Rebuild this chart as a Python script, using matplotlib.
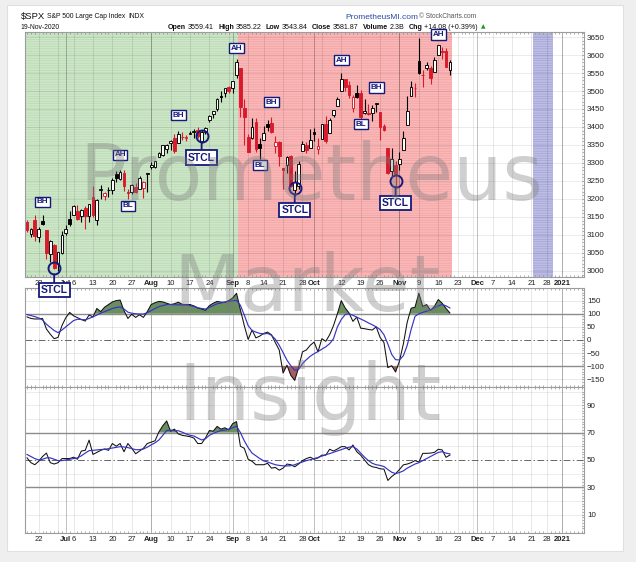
import numpy as np
import pandas as pd
import matplotlib
matplotlib.use("Agg")
import matplotlib.pyplot as plt
from matplotlib.patches import Rectangle

W, H, DPI = 636, 562, 100

# ------------------------------------------------------------------ data
first_day = "2020-06-17"
last_axis_day = "2021-01-15"
holidays = ["2020-07-03", "2020-09-07", "2020-11-26", "2020-12-25", "2021-01-01"]
prev_close = 3124.74
volume_text = "2.3B"

opens = [3136.13, 3101.64, 3140.29, 3094.42, 3138.70, 3114.40, 3046.60, 3073.20, 3018.59, 3050.20,
         3105.92, 3143.64, 3155.29, 3166.44, 3153.07, 3176.17, 3152.47, 3205.08, 3141.11, 3225.98, 3208.36,
         3224.21, 3224.29, 3268.52, 3254.86, 3271.64, 3218.58, 3219.84, 3234.27, 3227.22, 3231.76, 3270.45,
         3288.26, 3289.92, 3317.37, 3323.17, 3340.05, 3356.04, 3370.34, 3355.46, 3372.95, 3368.66, 3380.86,
         3387.04, 3392.51, 3360.48, 3386.01, 3418.09, 3435.95, 3449.97, 3485.14, 3494.69, 3509.73,
         3507.44, 3543.76, 3564.74, 3453.60, 3371.88, 3369.82, 3412.56, 3352.70, 3363.56, 3407.73, 3411.23,
         3346.86, 3357.38, 3285.57, 3295.75, 3320.11, 3226.14, 3236.66, 3333.90, 3350.92, 3341.21,
         3385.87, 3338.94, 3367.27, 3408.74, 3384.56, 3434.28, 3459.67, 3500.02, 3534.01, 3515.47, 3453.72,
         3493.50, 3493.66, 3439.38, 3439.91, 3438.50, 3464.90, 3441.42, 3403.15, 3342.48, 3277.17, 3293.59,
         3296.20, 3336.25, 3406.46, 3485.74, 3508.34, 3583.04, 3543.26, 3563.22, 3562.67, 3552.57, 3600.16,
         3610.31, 3612.09, 3559.41]
highs = [3141.16, 3120.00, 3155.53, 3120.92, 3154.90, 3115.01, 3086.25, 3073.73, 3053.89, 3111.51,
         3128.44, 3165.81, 3182.59, 3184.15, 3171.80, 3179.78, 3186.82, 3235.32, 3200.95, 3238.28, 3220.39,
         3233.52, 3258.61, 3277.29, 3279.32, 3279.99, 3227.26, 3241.43, 3243.72, 3264.74, 3250.92, 3272.17,
         3302.73, 3306.84, 3330.77, 3351.03, 3352.54, 3363.29, 3381.01, 3387.89, 3387.24, 3378.51, 3387.59,
         3395.06, 3399.54, 3390.80, 3399.96, 3432.09, 3444.21, 3481.07, 3501.38, 3509.23, 3514.77,
         3528.03, 3588.11, 3564.85, 3479.15, 3379.97, 3424.77, 3425.55, 3368.95, 3402.93, 3419.48, 3428.92,
         3375.17, 3362.27, 3285.57, 3320.31, 3323.35, 3278.70, 3306.88, 3360.74, 3357.92, 3393.56,
         3397.18, 3369.10, 3409.57, 3431.56, 3426.26, 3447.28, 3482.34, 3549.85, 3534.01, 3527.94, 3489.08,
         3515.76, 3502.42, 3476.93, 3464.86, 3460.53, 3466.46, 3441.42, 3409.51, 3342.48, 3341.05, 3304.93,
         3330.14, 3389.49, 3486.25, 3529.05, 3521.58, 3645.99, 3557.22, 3581.16, 3569.02, 3593.66, 3628.51,
         3623.11, 3619.09, 3585.22]
lows = [3108.03, 3093.51, 3083.11, 3079.39, 3127.12, 3032.13, 3024.01, 3004.63, 2999.74, 3047.83,
        3101.17, 3124.52, 3155.29, 3142.93, 3136.53, 3115.70, 3136.22, 3149.43, 3127.66, 3200.76, 3198.59,
        3205.65, 3215.16, 3247.77, 3253.10, 3222.66, 3200.05, 3214.25, 3216.17, 3227.22, 3204.13, 3220.26,
        3284.53, 3286.37, 3317.37, 3318.14, 3328.72, 3335.44, 3326.44, 3355.46, 3363.35, 3361.64, 3379.22,
        3370.15, 3369.66, 3354.69, 3379.31, 3413.13, 3425.84, 3444.15, 3468.35, 3484.32, 3493.25,
        3494.60, 3535.23, 3427.41, 3349.63, 3329.27, 3366.84, 3329.25, 3310.47, 3363.56, 3389.25, 3384.45,
        3328.82, 3292.40, 3229.10, 3270.95, 3232.57, 3209.45, 3228.44, 3332.91, 3327.54, 3340.47,
        3361.39, 3323.69, 3367.27, 3354.54, 3384.56, 3428.15, 3458.07, 3499.61, 3500.86, 3480.55, 3440.89,
        3480.45, 3419.93, 3435.65, 3433.06, 3415.34, 3440.45, 3364.86, 3388.71, 3268.89, 3259.82, 3233.94,
        3279.74, 3336.25, 3405.17, 3485.74, 3484.34, 3547.48, 3511.91, 3557.00, 3518.58, 3552.57, 3600.16,
        3588.68, 3567.33, 3543.84]
closes = [3113.49, 3115.34, 3097.74, 3117.86, 3131.29, 3050.33, 3083.76, 3009.05, 3053.24, 3100.29,
          3115.86, 3130.01, 3179.72, 3145.32, 3169.94, 3152.05, 3185.04, 3155.22, 3197.52, 3226.56, 3215.57,
          3224.73, 3251.84, 3257.30, 3276.02, 3235.66, 3215.63, 3239.41, 3218.44, 3258.44, 3246.22, 3271.12,
          3294.61, 3306.51, 3327.77, 3349.16, 3351.28, 3360.47, 3333.69, 3380.35, 3373.43, 3372.85, 3381.99,
          3389.78, 3374.85, 3385.51, 3397.16, 3431.28, 3443.62, 3478.73, 3484.55, 3508.01, 3500.31,
          3526.65, 3580.84, 3455.06, 3426.96, 3331.84, 3398.96, 3339.19, 3340.97, 3383.54, 3401.20, 3385.49,
          3357.01, 3319.47, 3281.06, 3315.57, 3236.92, 3246.59, 3298.46, 3351.60, 3335.47, 3363.00,
          3380.80, 3348.42, 3408.60, 3360.97, 3419.44, 3446.83, 3477.14, 3534.22, 3511.93, 3488.67, 3483.34,
          3483.81, 3426.92, 3443.12, 3435.56, 3453.49, 3465.39, 3400.97, 3390.68, 3271.03, 3310.11, 3269.96,
          3310.24, 3369.16, 3443.44, 3510.45, 3509.44, 3550.50, 3545.53, 3572.66, 3537.01, 3585.15, 3626.91,
          3609.53, 3567.79, 3581.87]

cci = [88, 82, 80, 80, 82, 42, 22, 5, 10, 55,
       85, 105, 92, 85, 78, 72, 95, 88, 120, 108,
       125, 135, 145, 150, 152, 112, 82, 98, 86, 96,
       86, 108, 135, 142, 147, 145, 140, 135, 138, 144,
       136, 135, 135, 130, 122, 118, 113, 131, 140, 147,
       144, 144, 150, 160, 178, 115, 55, 2, 38, 8,
       15, 25, 30, 20, -10, -38, -126, -96, -135, -154,
       -105, -45, -38, -20, -8, -45, 5, -5, 20, 55,
       100, 150, 122, 103, 71, 87, 45, 43, 40, 38,
       50, 10, -10, -105, -98, -122, -80, -15, 68, 121,
       125, 178, 128, 135, 113, 128, 154, 140, 120, 103]
cci_ma = [97, 93, 89, 84, 76, 60, 48, 36, 28, 38,
          50, 62, 74, 79, 78, 77, 82, 88, 95, 102,
          108, 114, 120, 124, 126, 118, 106, 102, 100, 99,
          99, 104, 112, 120, 127, 131, 135, 135, 134, 134,
          133, 133, 131, 128, 123, 120, 118, 124, 131, 138,
          141, 144, 147, 149, 151, 132, 95, 55, 36, 30,
          25, 23, 25, 18, 3, -20, -48, -77, -98, -115,
          -112, -90, -75, -62, -52, -44, -35, -26, -14, 5,
          50, 78, 97, 100, 94, 87, 80, 73, 65, 58,
          50, 40, 20, -15, -55, -75, -76, -60, -20, 40,
          90, 100, 105, 110, 115, 122, 130, 135, 130, 122]
rsi = [51.5, 48, 46.5, 49, 52.5, 55, 48, 47, 48, 51,
       51, 51, 52, 50.5, 56.5, 57, 64.5, 54, 55.5, 57,
       58, 57, 62, 60, 62, 56, 62, 58.5, 54.5, 56.5,
       58.5, 62, 63, 64, 70.5, 75, 78.5, 71, 72.5, 69,
       68, 67.5, 67, 66, 62, 62, 66, 71.5, 71, 74.5,
       72.5, 73.5, 72, 76.5, 78, 60, 58.5, 50.5, 49, 46.5,
       46.5, 46.5, 47.5, 44, 44.5, 42.5, 44, 47, 46.5, 45,
       47, 49.5, 51, 52, 50.5, 51.5, 53.5, 53.5, 57.8, 56.5,
       58, 59.7, 59.7, 57.3, 60.9, 56, 53.5, 50, 46.5, 45,
       44.5, 43.5, 43.3, 35, 37.9, 40, 43, 46.4, 47, 48,
       49.5, 48.5, 54.8, 54.8, 55, 55.5, 57.8, 57.3, 51.9, 53.6]
rsi_ma = [54, 52.5, 51, 50, 50.5, 51.5, 51.5, 50.5, 49.5, 49.5,
          50, 50.5, 51, 51.5, 53, 55, 56.8, 57, 57.3, 57.6,
          57.8, 58.2, 58.7, 59.2, 59.7, 59.5, 59, 58.3, 57.5, 57.5,
          58, 59.3, 61, 62.5, 64.6, 68, 71.5, 71.8, 71.5, 71.3,
          70.3, 69, 68, 67.5, 66, 64.6, 65.5, 68, 69.4, 70.5,
          71.5, 71.8, 72.5, 73.5, 74.7, 70, 64, 59, 55, 53,
          51, 49.3, 48.5, 47.5, 46.5, 46, 45.7, 45.6, 45.8, 46.5,
          47.6, 48.5, 49.5, 50.2, 51, 51.8, 52.8, 53.8, 54.6, 55.6,
          56.6, 57.5, 58.5, 59.3, 59.7, 58, 55, 52, 49.5, 47.5,
          46.5, 46, 45.2, 43, 41, 40, 40.8, 42, 44, 45.5,
          47, 48, 49.5, 51, 52.5, 54, 55.5, 56, 55, 54.4]

tick_dates = ["2020-06-22", "2020-07-01", "2020-07-06", "2020-07-13", "2020-07-20", "2020-07-27",
              "2020-08-03", "2020-08-10", "2020-08-17", "2020-08-24", "2020-09-01", "2020-09-08",
              "2020-09-14", "2020-09-21", "2020-09-28", "2020-10-01", "2020-10-12", "2020-10-19",
              "2020-10-26", "2020-11-02", "2020-11-09", "2020-11-16", "2020-11-23", "2020-12-01",
              "2020-12-07", "2020-12-14", "2020-12-21", "2020-12-28", "2021-01-04"]
tick_labels = ["22", "Jul", "6", "13", "20", "27", "Aug", "10", "17", "24", "Sep", "8", "14", "21",
               "28", "Oct", "12", "19", "26", "Nov", "9", "16", "23", "Dec", "7", "14", "21", "28", "2021"]
bold_labels = ["Jul", "Aug", "Sep", "Oct", "Nov", "Dec", "2021"]

price_ticks = [3000, 3050, 3100, 3150, 3200, 3250, 3300, 3350, 3400, 3450, 3500, 3550, 3600, 3650]
cci_ticks = [150, 100, 50, 0, -50, -100, -150]
rsi_ticks = [90, 70, 50, 30, 10]

green_period = ("2020-06-17", "2020-09-02")
red_period = ("2020-09-03", "2020-11-19")
blue_period = ("2020-12-22", "2020-12-29")

ann_labels = ["BH", "AH", "BL", "BH", "AH", "BL", "BH", "AH", "BL", "BH", "AH"]
ann_dates = ["2020-06-23", "2020-07-22", "2020-07-24", "2020-08-12", "2020-09-02", "2020-09-11",
             "2020-09-16", "2020-10-12", "2020-10-19", "2020-10-23", "2020-11-16"]
ann_prices = [3192, 3323, 3181, 3433, 3619, 3294, 3469, 3586, 3408, 3510, 3657]
stcl_dates = ["2020-06-26", "2020-08-20", "2020-09-24", "2020-10-30"]
stcl_prices = [3008, 3376, 3230, 3250]

watermark_words = ["Prometheus", "Market", "Insight"]

# ------------------------------------------------------------------ setup
plt.rcParams["font.family"] = ["Liberation Sans", "DejaVu Sans"]
plt.rcParams["hatch.linewidth"] = 0.35

RED = "#d81b2c"
NAVY = "#15197a"
SPINE = "#9c9c9c"
FILL_G = "#6a8e5f"
FILL_R = "#a35f5f"

cal = pd.bdate_range(first_day, last_axis_day)
cal = cal[~cal.isin(pd.to_datetime(holidays))]
pos = {d: i for i, d in enumerate(cal)}


def P(d):
    return pos[pd.Timestamp(d)]


n = min(len(opens), len(highs), len(lows), len(closes), len(cci), len(cci_ma), len(rsi), len(rsi_ma))
xs = np.arange(n)
o = np.array(opens[:n]); h = np.array(highs[:n]); l = np.array(lows[:n]); c = np.array(closes[:n])

week_first, month_first = [], []
for k in range(1, len(cal)):
    if cal[k].isocalendar()[1] != cal[k - 1].isocalendar()[1]:
        week_first.append(k)
    if cal[k].month != cal[k - 1].month:
        month_first.append(k)

fig = plt.figure(figsize=(W / DPI, H / DPI), dpi=DPI, facecolor="#efefef")
fig.patches.append(Rectangle((7 / W, 1 - 551 / H), (623 - 7) / W, (551 - 5) / H,
                             transform=fig.transFigure, facecolor="white",
                             edgecolor="#e0e0e0", lw=0.8, zorder=-10))


def rect(lft, top, rgt, bot):
    return [lft / W, 1 - bot / H, (rgt - lft) / W, (bot - top) / H]


ax_p = fig.add_axes(rect(25, 32, 584, 277))
ax_c = fig.add_axes(rect(25, 288, 584, 387))
ax_r = fig.add_axes(rect(25, 387, 584, 533))
ax_p.set_zorder(5)
XLIM = (-0.52, 143.56)

for ax in (ax_p, ax_c, ax_r):
    ax.set_xlim(*XLIM)
    for s in ax.spines.values():
        s.set_color(SPINE)
        s.set_linewidth(0.8)
    for v in week_first:
        ax.axvline(v, color="black", alpha=0.11, lw=0.6, zorder=1)
    for v in month_first:
        ax.axvline(v, color="black", alpha=0.25, lw=0.7, zorder=1)
    ax.yaxis.tick_right()
    ax.set_xticks(np.arange(0, 144), minor=True)
    ax.tick_params(axis="x", which="minor", length=1.6, width=0.5, color="#8a8a8a",
                   direction="in", top=True, bottom=True)
    ax.tick_params(axis="y", which="both", direction="in", length=1.6, width=0.5,
                   color="#8a8a8a", labelsize=5.8, pad=2.2, labelcolor="#222222")
    ax.set_xticks([P(d) for d in tick_dates])
    ax.tick_params(axis="x", which="major", length=0, labelsize=5.5, pad=1.9, labelcolor="#222222")

# ------------------------------------------------------------------ price panel
ax_p.set_ylim(2983.3, 3663.9)
ax_p.set_yticks(price_ticks)
ax_p.set_yticks(np.arange(2990, 3661, 10), minor=True)
for v in price_ticks:
    ax_p.axhline(v, color="black", alpha=0.09, lw=0.6, zorder=1)

ax_p.axvspan(XLIM[0], P(green_period[1]) + 0.5, facecolor="#cce6c7", edgecolor="#b4d5ad",
             hatch="-------", lw=0, zorder=0.5)
ax_p.axvspan(P(red_period[0]) - 0.5, P(red_period[1]) + 0.5, facecolor="#f9b7b7",
             edgecolor="#f19b9b", hatch="-------", lw=0, zorder=0.5)
ax_p.axvspan(P(blue_period[0]) - 0.5, P(blue_period[1]) + 0.5, facecolor="#bcbce4",
             edgecolor="#9c9cd2", hatch="-------", lw=0, zorder=0.5)

prev = np.r_[prev_close, c[:-1]]
cols = np.where(c >= prev, "#000000", RED)
faces = np.where(c > o, "#ffffff", cols)
ax_p.vlines(xs, l, h, colors=list(cols), lw=0.8, zorder=3)
ax_p.bar(xs, np.maximum(np.abs(c - o), 0.6), bottom=np.minimum(o, c), width=0.7,
         color=list(faces), edgecolor=list(cols), linewidth=0.65, zorder=4)

ax_p.set_xticklabels(tick_labels)
for t in ax_p.get_xticklabels():
    if t.get_text() in bold_labels:
        t.set_fontweight("bold")

for lab, d, p in zip(ann_labels, ann_dates, ann_prices):
    ax_p.text(P(d), p, lab, ha="center", va="center", fontsize=5.8, fontweight="bold",
              color=NAVY, zorder=7, clip_on=False,
              bbox=dict(boxstyle="square,pad=0.2", fc="white", ec=NAVY, lw=1.0))

for d, p in zip(stcl_dates, stcl_prices):
    xi = P(d)
    ax_p.plot([xi], [p], marker="o", ms=8.6, mfc="none", mec=NAVY, mew=1.4, zorder=7, clip_on=False)
    ax_p.annotate("STCL", xy=(xi, p), xytext=(0, -15.8), textcoords="offset points",
                  ha="center", va="center", fontsize=7.5, fontweight="bold", color=NAVY,
                  bbox=dict(boxstyle="square,pad=0.2", fc="white", ec=NAVY, lw=1.3),
                  arrowprops=dict(arrowstyle="-", color=NAVY, lw=1.3, shrinkA=0, shrinkB=4.4),
                  zorder=7, annotation_clip=False)

# ------------------------------------------------------------------ CCI panel
cv = np.array(cci[:n], float)
ax_c.set_ylim(-179, 198)
ax_c.set_yticks(cci_ticks)
ax_c.set_yticks(np.arange(-170, 191, 10), minor=True)
ax_c.set_xticklabels([])
for v in (150, 50, -50, -150):
    ax_c.axhline(v, color="black", alpha=0.1, lw=0.6, zorder=1)
for v in (100, -100):
    ax_c.axhline(v, color="#8c8c8c", lw=1.0, zorder=1.5)
ax_c.axhline(0, color="#666666", lw=0.7, ls=(0, (7, 2.5, 1.5, 2.5)), zorder=1.5)
ax_c.fill_between(xs, cv, 100, where=cv >= 100, interpolate=True, color=FILL_G, lw=0, zorder=2)
ax_c.fill_between(xs, cv, -100, where=cv <= -100, interpolate=True, color=FILL_R, lw=0, zorder=2)
ax_c.plot(xs, cv, color="#111111", lw=0.75, zorder=3)
ax_c.plot(xs, cci_ma[:n], color="#3434c4", lw=0.85, zorder=3)

# ------------------------------------------------------------------ RSI panel
rv = np.array(rsi[:n], float)
ax_r.set_ylim(-3.4, 103.3)
ax_r.set_yticks(rsi_ticks)
ax_r.set_yticks(np.arange(0, 101, 2), minor=True)
for v in (10, 20, 40, 60, 80, 90, 100):
    ax_r.axhline(v, color="black", alpha=0.09, lw=0.6, zorder=1)
for v in (70, 30):
    ax_r.axhline(v, color="#8c8c8c", lw=1.0, zorder=1.5)
ax_r.axhline(50, color="#666666", lw=0.7, ls=(0, (7, 2.5, 1.5, 2.5)), zorder=1.5)
ax_r.fill_between(xs, rv, 70, where=rv >= 70, interpolate=True, color=FILL_G, lw=0, zorder=2)
ax_r.fill_between(xs, rv, 30, where=rv <= 30, interpolate=True, color=FILL_R, lw=0, zorder=2)
ax_r.plot(xs, rv, color="#111111", lw=0.75, zorder=3)
ax_r.plot(xs, rsi_ma[:n], color="#3434c4", lw=0.85, zorder=3)
ax_r.set_xticklabels(tick_labels)
for t in ax_r.get_xticklabels():
    if t.get_text() in bold_labels:
        t.set_fontweight("bold")


# ------------------------------------------------------------------ header texts
def ftext(xp, yp, s, **kw):
    kw.setdefault("va", "center")
    kw.setdefault("ha", "left")
    kw.setdefault("color", "#111111")
    return fig.text(xp / W, 1 - yp / H, s, **kw)


renderer = fig.canvas.get_renderer()


def chain(x0, yp, pieces):
    xcur = x0
    for s, size, bold, gap in pieces:
        xcur += gap
        t = ftext(xcur, yp, s, fontsize=size, fontweight="bold" if bold else "normal")
        xcur = t.get_window_extent(renderer).x1
    return xcur


last_date = pd.Timestamp(cal[n - 1])
chg = c[-1] - c[-2]
pct = chg / c[-2] * 100

chain(20.5, 16.5, [("$SPX", 6.8, False, 0), ("S&P 500 Large Cap Index", 4.9, False, 2.5),
                   ("INDX", 4.9, False, 2.5)])
ftext(20.5, 27.3, last_date.strftime("%d-%b-%Y"), fontsize=4.9)
ftext(345, 17.3, "PrometheusMI.com", fontsize=6.0, color="#2b4ba3")
ftext(419, 17.0, "\u00a9 StockCharts.com", fontsize=4.8, color="#555555")

hdr = [("Open", 5.1, True, 0), (f"{o[-1]:.2f}", 5.1, False, 2),
       ("High", 5.1, True, 4), (f"{h[-1]:.2f}", 5.1, False, 2),
       ("Low", 5.1, True, 4), (f"{l[-1]:.2f}", 5.1, False, 2),
       ("Close", 5.1, True, 4), (f"{c[-1]:.2f}", 5.1, False, 2),
       ("Volume", 5.1, True, 4), (volume_text, 5.1, False, 2),
       ("Chg", 5.1, True, 4), (f"{chg:+.2f} ({pct:+.2f}%)", 5.1, False, 2)]
xend = chain(168, 27.3, hdr)
ftext(xend + 2.5, 27.0, "\u25b2", fontsize=4.2, color="#1c9a1c", family=["DejaVu Sans"])

# ------------------------------------------------------------------ watermark
wm_pos = [(311, 200), (307, 311.5), (310.5, 420)]
for word, (xp, yp) in zip(watermark_words, wm_pos):
    fig.text(xp / W, 1 - yp / H, word, ha="center", va="baseline", fontsize=56,
             family=["DejaVu Sans"], color="#7a7a7a", alpha=0.36, zorder=20)

fig.savefig("out.png", dpi=DPI, facecolor=fig.get_facecolor())
